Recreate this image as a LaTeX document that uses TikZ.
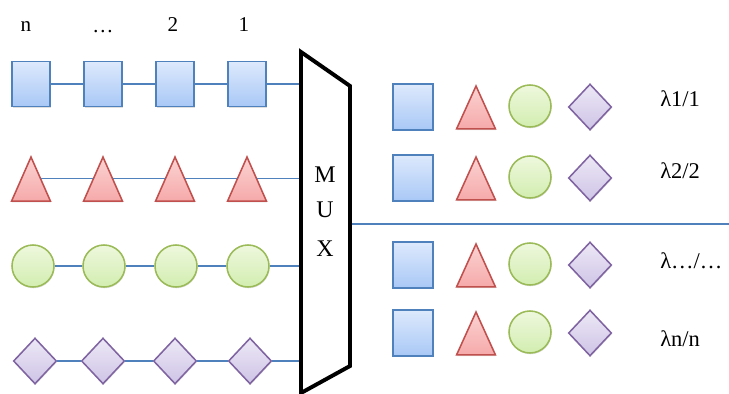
\documentclass[tikz,border=0pt]{standalone}
\usepackage{fontspec}
\setmainfont{Liberation Serif}
\usepackage{tikz}
\usetikzlibrary{positioning,shapes.geometric,shadows}
\definecolor{sqline}{HTML}{4F81BD}
\definecolor{sqtop}{HTML}{DDE9FC}
\definecolor{sqbot}{HTML}{A9C8F6}
\definecolor{triline}{HTML}{C0504D}
\definecolor{tritop}{HTML}{FBD3D3}
\definecolor{tribot}{HTML}{F6A9A9}
\definecolor{balline}{HTML}{9BBB59}
\definecolor{baltop}{HTML}{EEF8DD}
\definecolor{balbot}{HTML}{D2EDB0}
\definecolor{dialine}{HTML}{8064A2}
\definecolor{diatop}{HTML}{EDE8F6}
\definecolor{diabot}{HTML}{CEC4E6}
\tikzstyle{shade} = [drop shadow={shadow xshift=0.4pt, shadow yshift=-0.9pt, opacity=0.25}]
\tikzstyle{sqr} = [shade, draw=sqline, line width=1.1pt, top color=sqtop, bottom color=sqbot, inner sep=0pt, minimum width=0.95cm, minimum height=1.12cm]
\tikzstyle{tri} = [shade, isosceles triangle, isosceles triangle stretches, shape border rotate=90, draw=triline, line width=1.1pt, top color=tritop, bottom color=tribot, inner sep=0pt, minimum width=0.97cm, minimum height=1.1cm, anchor=apex]
\tikzstyle{bal} = [shade, circle, draw=balline, line width=1.1pt, top color=baltop, bottom color=balbot, inner sep=0pt, minimum size=1.05cm]
\tikzstyle{dia} = [shade, diamond, draw=dialine, line width=1.1pt, top color=diatop, bottom color=diabot, inner sep=0pt, minimum width=1.08cm, minimum height=1.15cm]
\tikzstyle{wire} = [draw=sqline, line width=1.1pt]
\tikzstyle{lbl} = [inner sep=0pt, font=\fontsize{15}{18}\selectfont]

\begin{document}
\begin{tikzpicture}[x=0.025cm, y=-0.025cm]
	\useasboundingbox (0,0) rectangle (729,394);
	% channel numbers
	\node[lbl, anchor=base] (ln) at (26,32) {n};
	\node[lbl, anchor=base] (ldots) at (103,33) {\dots};
	\node[lbl, anchor=base] (l2) at (173,32) {2};
	\node[lbl, anchor=base] (l1) at (244,32) {1};
	% input rows
	\node[sqr] (s4) at (31,84) {};
	\node[sqr] (s3) at (103,84) {};
	\node[sqr] (s2) at (175,84) {};
	\node[sqr] (s1) at (247,84) {};
	\node[tri] (t4) at (31,155) {};
	\node[tri] (t3) at (103,155) {};
	\node[tri] (t2) at (175,155) {};
	\node[tri] (t1) at (247,155) {};
	\node[bal] (c4) at (33,266) {};
	\node[bal] (c3) at (104,266) {};
	\node[bal] (c2) at (176,266) {};
	\node[bal] (c1) at (248,266) {};
	\node[dia] (d4) at (35,361) {};
	\node[dia] (d3) at (103,361) {};
	\node[dia] (d2) at (175,361) {};
	\node[dia] (d1) at (250,361) {};
	% multiplexer
	\coordinate (mtl) at (301,52);
	\coordinate (mtr) at (350,86);
	\coordinate (mbr) at (350,366);
	\coordinate (mbl) at (301,393);
	\coordinate (out) at (729,224);
	\draw[wire] (s4) -- (s3) (s3) -- (s2) (s2) -- (s1) (s1) -- (s1 -| mtl);
	\draw[wire] (t4.right side) -- (t3.left side) (t3.right side) -- (t2.left side) (t2.right side) -- (t1.left side) (t1.right side) -- (t1.right side -| mtl);
	\draw[wire] (c4) -- (c3) (c3) -- (c2) (c2) -- (c1) (c1) -- (c1 -| mtl);
	\draw[wire] (d4) -- (d3) (d3) -- (d2) (d2) -- (d1) (d1) -- (d1 -| mtl);
	\draw[wire] (out -| mtr) -- (out);
	\draw[line width=2.8pt, line join=miter] (mtl) -- (mtr) -- (mbr) -- (mbl) -- cycle;
	\node[lbl, anchor=base, font=\fontsize{17}{20}\selectfont] (mm) at (325,182) {M};
	\node[lbl, anchor=base, font=\fontsize{17}{20}\selectfont] (mu) at (325,217) {U};
	\node[lbl, anchor=base, font=\fontsize{17}{20}\selectfont] (mx) at (325,256) {X};
	% output wavelengths
	\node[sqr, minimum width=1cm, minimum height=1.15cm] (q1) at (413,107) {};
	\node[tri, minimum height=1.07cm] (p1) at (476,84) {};
	\node[bal] (o1) at (530,106) {};
	\node[dia] (r1) at (590,107) {};
	\node[sqr, minimum width=1cm, minimum height=1.15cm] (q2) at (413,178) {};
	\node[tri, minimum height=1.07cm] (p2) at (476,155) {};
	\node[bal] (o2) at (530,177) {};
	\node[dia] (r2) at (590,178) {};
	\node[sqr, minimum width=1cm, minimum height=1.15cm] (q3) at (413,265) {};
	\node[tri, minimum height=1.07cm] (p3) at (476,242) {};
	\node[bal] (o3) at (530,264) {};
	\node[dia] (r3) at (590,265) {};
	\node[sqr, minimum width=1cm, minimum height=1.15cm] (q4) at (413,333) {};
	\node[tri, minimum height=1.07cm] (p4) at (476,310) {};
	\node[bal] (o4) at (530,332) {};
	\node[dia] (r4) at (590,333) {};
	\node[lbl, anchor=base west, font=\fontsize{16}{19}\selectfont] (w1) at (660,107) {λ1/1};
	\node[lbl, anchor=base west, font=\fontsize{16}{19}\selectfont] (w2) at (660,178) {λ2/2};
	\node[lbl, anchor=base west, font=\fontsize{16}{19}\selectfont] (w3) at (660,268) {λ\dots/\dots};
	\node[lbl, anchor=base west, font=\fontsize{16}{19}\selectfont] (w4) at (660,346) {λn/n};
\end{tikzpicture}
\end{document}
